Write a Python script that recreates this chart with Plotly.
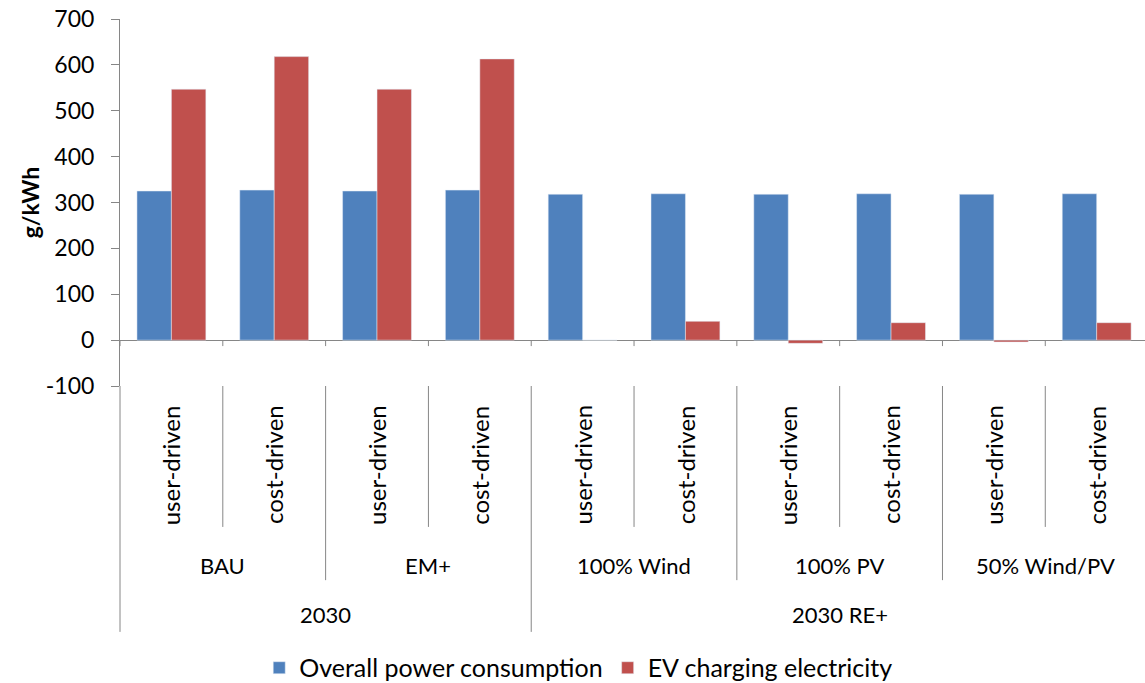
import plotly.graph_objects as go

# three-level category axis
periods = ["2030", "2030 RE+"]
scenarios = ["BAU", "EM+", "100% Wind", "100% PV", "50% Wind/PV"]
strategies = ["user-driven", "cost-driven"]

# per bar, in the order of the chart
categories = [f"{s} {m}" for s in scenarios for m in strategies]
overall_power = [325, 327, 325, 327, 318, 319, 318, 319, 318, 319]
ev_charging = [547, 618, 547, 613, 0, 41, -7, 38, -4, 38]

y_ticks = [-100, 0, 100, 200, 300, 400, 500, 600, 700]
y_tick_text = ["-100", "0", "100", "200", "300", "400", "500", "600", "700"]

BLUE = "#4F81BD"
RED = "#C0504D"
AXIS = "#868686"
FONT = "Lato"

fig = go.Figure()
fig.add_trace(go.Bar(x=categories, y=overall_power, name="Overall power consumption",
                     marker_color=BLUE))
fig.add_trace(go.Bar(x=categories, y=ev_charging, name="EV charging electricity",
                     marker_color=RED))

shapes = []
annotations = []

# small ticks on the zero line, at category boundaries
for i in range(len(categories) + 1):
    shapes.append(dict(type="line", xref="x", yref="y", x0=i - 0.5, x1=i - 0.5,
                       y0=0, y1=-13, line=dict(color=AXIS, width=1)))

# dividers in the label area below the plot
for i in range(1, len(categories)):
    boundary = i - 0.5
    if i == 4:
        bottom = -0.67
    elif i % 2 == 0:
        bottom = -0.529
    else:
        bottom = -0.384
    shapes.append(dict(type="line", xref="x", yref="paper", x0=boundary, x1=boundary,
                       y0=0, y1=bottom, line=dict(color=AXIS, width=1)))
# left axis continues down
shapes.append(dict(type="line", xref="paper", yref="paper", x0=0, x1=0,
                   y0=0, y1=-0.67, line=dict(color=AXIS, width=1)))

# inner labels
for i, cat in enumerate(categories):
    annotations.append(dict(x=i, y=-0.215, xref="x", yref="paper", text=strategies[i % 2],
                            textangle=-90, showarrow=False, yanchor="middle",
                            font=dict(family=FONT, size=24, color="black")))
# scenario labels
for j, s in enumerate(scenarios):
    annotations.append(dict(x=2 * j + 0.5, y=-0.49, xref="x", yref="paper", text=s,
                            showarrow=False, yanchor="middle",
                            font=dict(family=FONT, size=22, color="black")))
# period labels
annotations.append(dict(x=1.5, y=-0.623, xref="x", yref="paper", text=periods[0],
                        showarrow=False, yanchor="middle",
                        font=dict(family=FONT, size=22, color="black")))
annotations.append(dict(x=6.5, y=-0.623, xref="x", yref="paper", text=periods[1],
                        showarrow=False, yanchor="middle",
                        font=dict(family=FONT, size=22, color="black")))
# y title
annotations.append(dict(x=-0.088, y=0.5, xref="paper", yref="paper", text="<b>g/kWh</b>",
                        textangle=-90, showarrow=False, xanchor="center", yanchor="middle",
                        font=dict(family=FONT, size=23, color="black")))

fig.update_layout(
    width=1145, height=683,
    margin=dict(l=120, r=0, t=19, b=297),
    paper_bgcolor="white", plot_bgcolor="white",
    barmode="group", bargap=0.33, bargroupgap=0,
    font=dict(family=FONT, size=22, color="black"),
    shapes=shapes, annotations=annotations,
    legend=dict(orientation="h", xref="container", yref="container",
                x=0.505, xanchor="center", y=0.022, yanchor="middle",
                font=dict(family=FONT, size=25), itemwidth=30, traceorder="normal"),
    showlegend=True,
)
fig.update_xaxes(showticklabels=False, showline=False, showgrid=False, zeroline=False,
                 range=[-0.5, 9.47], automargin=False)
fig.update_yaxes(range=[-100, 700], tickvals=y_ticks, ticktext=y_tick_text,
                 showgrid=False, showline=True, automargin=False,
                 linecolor=AXIS, linewidth=1, ticks="outside", ticklen=8, tickcolor=AXIS,
                 zeroline=True, zerolinecolor=AXIS, zerolinewidth=1,
                 ticklabeloverflow="allow", ticklabelstandoff=12,
                 tickfont=dict(family=FONT, size=23))

# drop the default 8px body margin so the figure fills the window
fig.write_html("out.html", config={"displayModeBar": False},
               post_script="document.body.style.margin='0';")
